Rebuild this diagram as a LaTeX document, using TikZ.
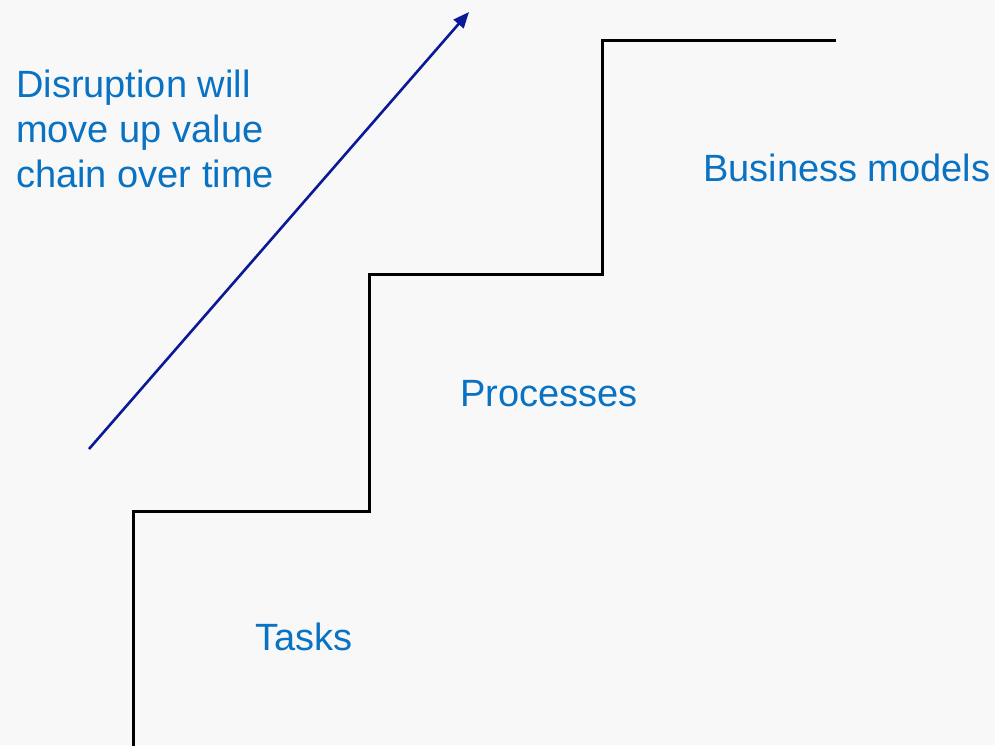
\documentclass[tikz,border=0pt]{standalone}
\usepackage{fontspec}
\setmainfont{Liberation Sans}
\usetikzlibrary{arrows.meta}
\definecolor{bg}{HTML}{F8F8F8}
\definecolor{txtblue}{HTML}{0A72C2}
\definecolor{navy}{HTML}{0A1A96}
\tikzset{
  lbl/.style={text=txtblue, font=\fontsize{38}{45}\selectfont, inner sep=0pt, anchor=west, align=left},
  stair/.style={line width=3pt, black, line join=miter},
  trend/.style={line width=2.6pt, navy, -{Triangle[length=16pt,width=13pt]}}
}
\begin{document}
\begin{tikzpicture}[x=1pt,y=-1pt]
\fill[bg] (0,0) rectangle (995,745);
\useasboundingbox (0,0) rectangle (995,745);
\coordinate (s0) at (133,746);
\coordinate (s1) at (133,511);
\coordinate (s2) at (369,511);
\coordinate (s3) at (369,274);
\coordinate (s4) at (602,274);
\coordinate (s5) at (602,40);
\coordinate (s6) at (836,40);
\draw[stair] (s0) -- (s1) -- (s2) -- (s3) -- (s4) -- (s5) -- (s6);
\coordinate (a0) at (89,449);
\coordinate (a1) at (469,12);
\draw[trend] (a0) -- (a1);
\node[lbl] (disr) at (16,129) {Disruption will\\move up value\\chain over time};
\node[lbl] (bm) at (703,168) {Business models};
\node[lbl] (proc) at (460,394) {Processes};
\node[lbl] (task) at (255,637) {Tasks};
\end{tikzpicture}
\end{document}
